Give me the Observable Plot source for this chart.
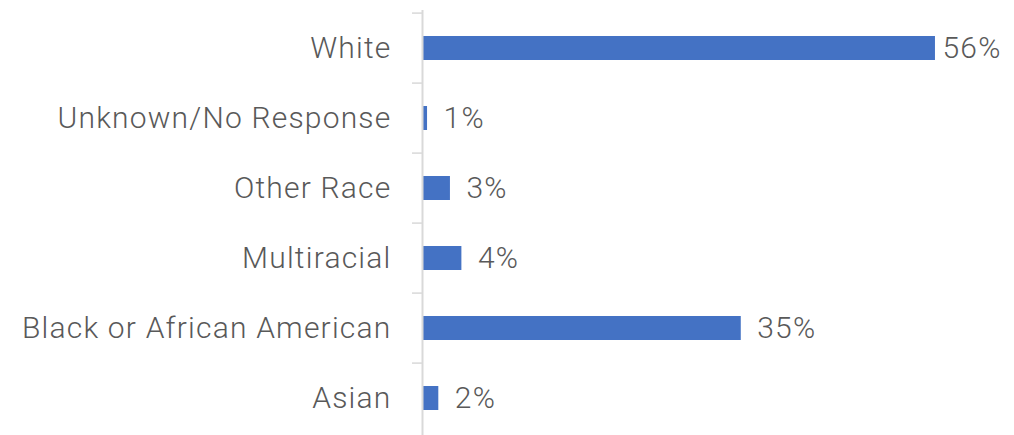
<!DOCTYPE html>
<html>
<head>
<meta charset="utf-8">
<script src="https://cdn.jsdelivr.net/npm/d3@7"></script>
<script src="https://cdn.jsdelivr.net/npm/@observablehq/plot@0.6"></script>
<style>
  html, body { margin: 0; padding: 0; background: #ffffff; }
  svg { display: block; }
</style>
</head>
<body>
<div id="chart"></div>
<script>
const categories = ["White", "Unknown/No Response", "Other Race", "Multiracial", "Black or African American", "Asian"];
const values = [56.0, 0.55, 3.05, 4.3, 34.8, 1.78];

const data = categories.map((c, i) => ({category: c, value: values[i]}));
const fmt = d => Math.round(d.value) + "%";

const chart = Plot.plot({
  width: 1014,
  height: 435,
  marginLeft: 422,
  marginRight: 42.4,
  marginTop: 10,
  marginBottom: 0,
  style: {fontFamily: "Roboto", fontSize: "30px", fontWeight: 300, color: "#595959", background: "#ffffff", letterSpacing: "1.2px"},
  x: {domain: [0, 60], axis: null},
  y: {domain: categories, paddingInner: 0.66, paddingOuter: 0.33, axis: null},
  marks: [
    Plot.barX(data, {y: "category", x: "value", fill: "#4472C4"}),
    Plot.axisY({tickSize: 0, tickPadding: 31, fontSize: 30, fill: "#595959", label: null}),
    Plot.axisY({tickSize: 10, text: null, dy: -35.4, stroke: "#d9d9d9", strokeWidth: 1.5, label: null}),
    Plot.ruleX([0], {stroke: "#d9d9d9", strokeWidth: 2}),
    Plot.text(data.filter(d => d.value < 50), {y: "category", x: "value", text: fmt, textAnchor: "start", dx: 16, fontSize: 30, fill: "#595959"}),
    Plot.text(data.filter(d => d.value >= 50), {y: "category", x: "value", text: fmt, textAnchor: "start", dx: 7, fontSize: 30, fill: "#595959"})
  ]
});
document.getElementById("chart").appendChild(chart);
</script>
</body>
</html>
